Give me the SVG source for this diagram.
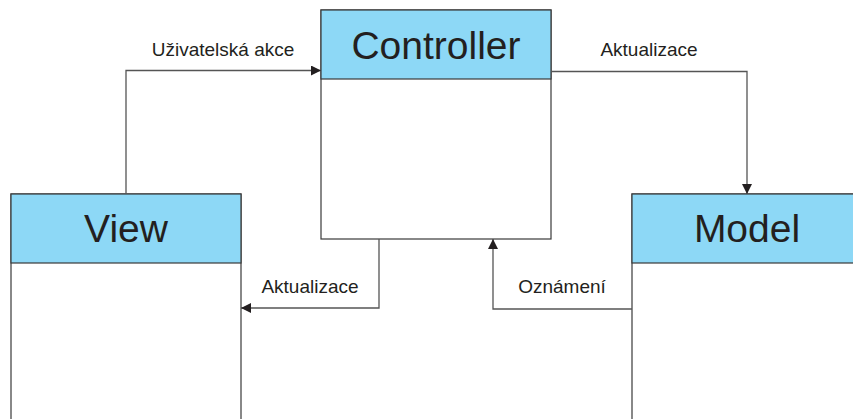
<svg xmlns="http://www.w3.org/2000/svg" width="853" height="419" viewBox="0 0 853 419">
<defs>
<style>
.box{fill:#ffffff;stroke:#3a3a3a;stroke-width:1.2}
.hdr{fill:#8dd8f6;stroke:#3a3a3a;stroke-width:1.2}
.title{font-family:"Liberation Sans",Arial,sans-serif;font-size:39px;fill:#231f20;text-anchor:middle}
.lbl{font-family:"Liberation Sans",Arial,sans-serif;font-size:19px;fill:#231f20;text-anchor:middle}
.conn{fill:none;stroke:#555555;stroke-width:1.3}
</style>
<marker id="arr" viewBox="0 0 10 10" refX="10" refY="5" markerWidth="10" markerHeight="10" markerUnits="userSpaceOnUse" orient="auto">
<path d="M0,0 L10,5 L0,10 Z" fill="#231f20"/>
</marker>
</defs>
<rect width="853" height="419" fill="#ffffff"/>
<g id="controller">
<rect class="box" x="321" y="10" width="230" height="229"/>
<rect class="hdr" x="321" y="10" width="230" height="69"/>
<text class="title" x="436" y="59">Controller</text>
</g>
<g id="view">
<rect class="box" x="11" y="194" width="230" height="240"/>
<rect class="hdr" x="11" y="194" width="230" height="69"/>
<text class="title" x="126" y="242">View</text>
</g>
<g id="model">
<rect class="box" x="632" y="194" width="240" height="240"/>
<rect class="hdr" x="632" y="194" width="240" height="69"/>
<text class="title" x="747" y="242">Model</text>
</g>
<g id="connectors">
<path class="conn" d="M126,194 V70.5 H321" marker-end="url(#arr)"/>
<path class="conn" d="M551,71.5 H747 V194" marker-end="url(#arr)"/>
<path class="conn" d="M379,239 V308 H241" marker-end="url(#arr)"/>
<path class="conn" d="M632,309 H493 V239" marker-end="url(#arr)"/>
<text class="lbl" x="223" y="56">Uživatelská akce</text>
<text class="lbl" x="649" y="56">Aktualizace</text>
<text class="lbl" x="310" y="293">Aktualizace</text>
<text class="lbl" x="562" y="293">Oznámení</text>
</g>
</svg>
